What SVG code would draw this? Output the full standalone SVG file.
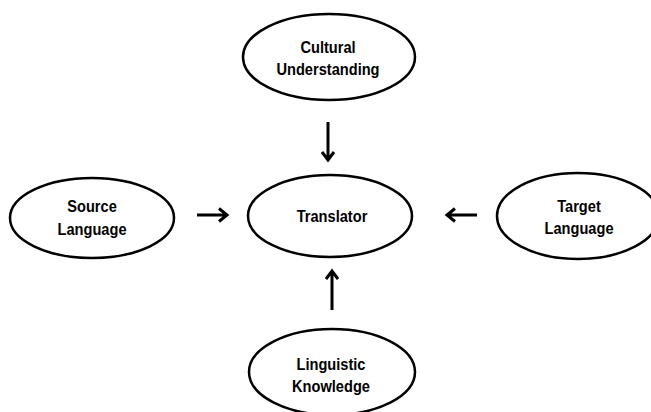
<svg xmlns="http://www.w3.org/2000/svg" width="651" height="412" viewBox="0 0 651 412">
<style>
.n{fill:#fff;stroke:#000;stroke-width:2.5}
.t{font-family:"Liberation Sans",Arial,sans-serif;font-weight:bold;font-size:17px;fill:#000;text-anchor:middle}
.c{fill:none;stroke:#000;stroke-width:3;stroke-linecap:butt;stroke-linejoin:miter}
</style>
<rect width="651" height="412" fill="#fff"/>
<g id="cultural">
<ellipse class="n" cx="329" cy="57" rx="86" ry="43"/>
<text class="t" transform="translate(328 53) scale(0.86 1)">Cultural</text>
<text class="t" transform="translate(328 75) scale(0.86 1)">Understanding</text>
</g>
<g id="source">
<ellipse class="n" cx="92" cy="218" rx="82" ry="40"/>
<text class="t" transform="translate(92 212) scale(0.86 1)">Source</text>
<text class="t" transform="translate(92 235) scale(0.86 1)">Language</text>
</g>
<g id="translator">
<ellipse class="n" cx="330" cy="216" rx="82" ry="41"/>
<text class="t" transform="translate(332 222) scale(0.86 1)">Translator</text>
</g>
<g id="target">
<ellipse class="n" cx="578" cy="216" rx="81" ry="43"/>
<text class="t" transform="translate(579 212) scale(0.86 1)">Target</text>
<text class="t" transform="translate(579 234) scale(0.86 1)">Language</text>
</g>
<g id="linguistic">
<ellipse class="n" cx="332" cy="372" rx="83" ry="43"/>
<text class="t" transform="translate(331 370) scale(0.86 1)">Linguistic</text>
<text class="t" transform="translate(331 392) scale(0.86 1)">Knowledge</text>
</g>
<g id="connectors">
<path class="c" d="M328 122V160M322 152L328 160L334 152"/>
<path class="c" d="M197 215H227M219 208.5L227 215L219 221.5"/>
<path class="c" d="M477 215H447M455 208.5L447 215L455 221.5"/>
<path class="c" d="M332 310V271M326 279L332 271L338 279"/>
</g>
</svg>
